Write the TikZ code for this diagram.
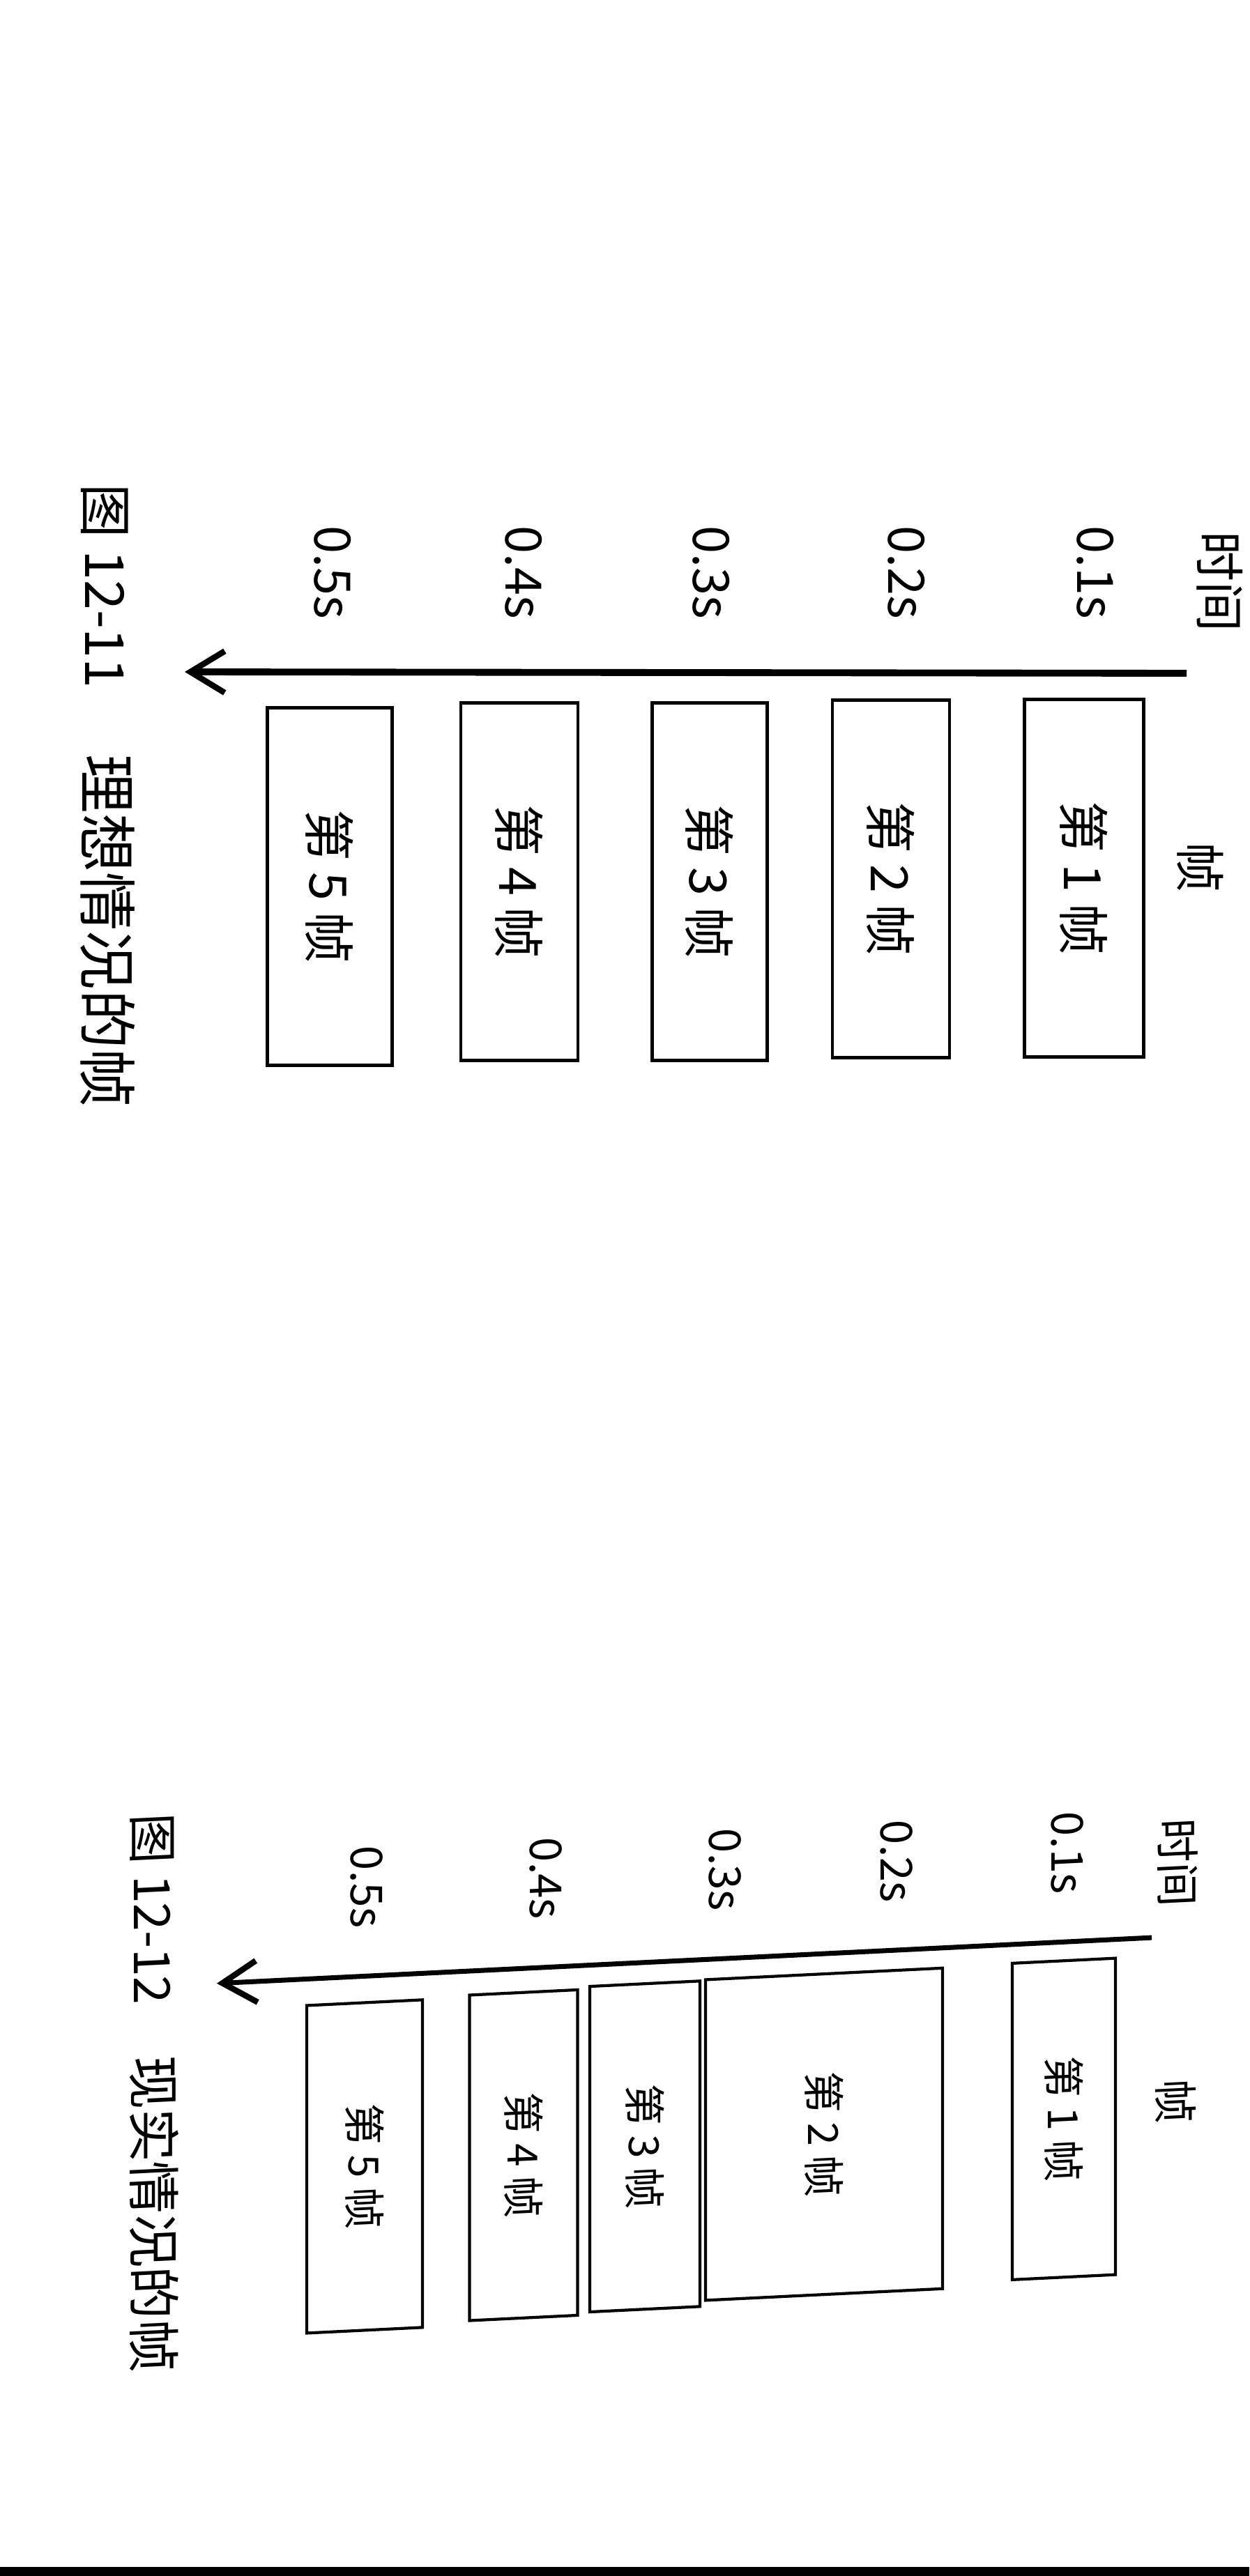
\documentclass[tikz,border=0pt]{standalone}
\usepackage{fontspec}
\setmainfont{Noto Sans CJK SC}
\usepackage{tikz}
\usetikzlibrary{arrows.meta,calc}
\tikzset{
	framebox/.style={draw, line width=1.4pt, rotate=-90, inner sep=0pt},
	upright/.style={rotate=-90, inner sep=0pt},
	timeline/.style={line width=2.8pt, -{Straight Barb[length=14pt,width=17pt,line width=2.4pt]}}
}

\begin{document}
\begin{tikzpicture}
		\useasboundingbox (0,0) rectangle (17.92,-36.96);
		\fill [black] (0,-36.83) rectangle (17.92,-36.96);
		% ideal frames
		\node [upright, font=\fontsize{20.5}{24}\selectfont] (timeA) at (17.50,-8.35) {时间};
		\node [upright, font=\fontsize{20.5}{24}\selectfont] (headA) at (17.22,-12.45) {帧};
		\foreach \n/\x in {1/15.71, 2/13.00, 3/10.20, 4/7.51, 5/4.77}
			\node [upright, font=\fontsize{20.5}{24}\selectfont] (tickA\n) at (\x,-8.21) {0.\n s};
		\coordinate (startA) at (17.02,-9.66);
		\coordinate (endA) at (2.65,-9.64);
		\draw [timeline] (startA) -- (endA);
		\foreach \n/\x/\y/\w in {1/15.55/12.60/1.71, 2/12.78/12.61/1.68, 3/10.18/12.65/1.65, 4/7.45/12.65/1.68, 5/4.73/12.72/1.79}
			\node [framebox, minimum width=5.13cm, minimum height=\w cm, font=\fontsize{21}{24}\selectfont] (frameA\n) at (\x,-\y) {第 \n{} 帧};
		\node [upright, anchor=west, font=\fontsize{22}{26}\selectfont] (capA) at (1.55,-6.94) {图 12-11\hspace{0.95cm}{\fontsize{24}{28}\selectfont 理想情况的帧}};
		% real frames
		\begin{scope}[shift={(10,-29.8)}, yslant=0.049, shift={(-10,29.8)}, transform shape]
			\node [upright, font=\fontsize{18}{22}\selectfont] (timeB) at (16.89,-27.06) {时间};
			\node [upright, font=\fontsize{18}{22}\selectfont] (headB) at (16.86,-30.49) {帧};
			\foreach \n/\x in {1/15.31, 2/12.86, 3/10.40, 4/7.83, 5/5.26}
				\node [upright, font=\fontsize{18}{22}\selectfont] (tickB\n) at (\x,-26.84) {0.\n s};
			\coordinate (startB) at (16.52,-28.12);
			\coordinate (endB) at (3.11,-28.12);
			\draw [timeline, line width=2pt] (startB) -- (endB);
			\foreach \n/\x/\y/\w/\h in {1/15.26/30.66/1.48/4.54, 2/11.82/30.71/3.40/4.60, 3/9.25/30.76/1.58/4.67, 4/7.51/30.80/1.55/4.67, 5/5.23/30.85/1.66/4.70}
				\node [framebox, line width=1.2pt, minimum width=\h cm, minimum height=\w cm, font=\fontsize{17}{21}\selectfont] (frameB\n) at (\x,-\y) {第 \n{} 帧};
			\node [upright, anchor=west, font=\fontsize{20.5}{24}\selectfont] (capB) at (2.21,-25.63) {图 12-12\hspace{0.75cm}{\fontsize{21.5}{26}\selectfont 现实情况的帧}};
		\end{scope}
	\end{tikzpicture}
\end{document}
